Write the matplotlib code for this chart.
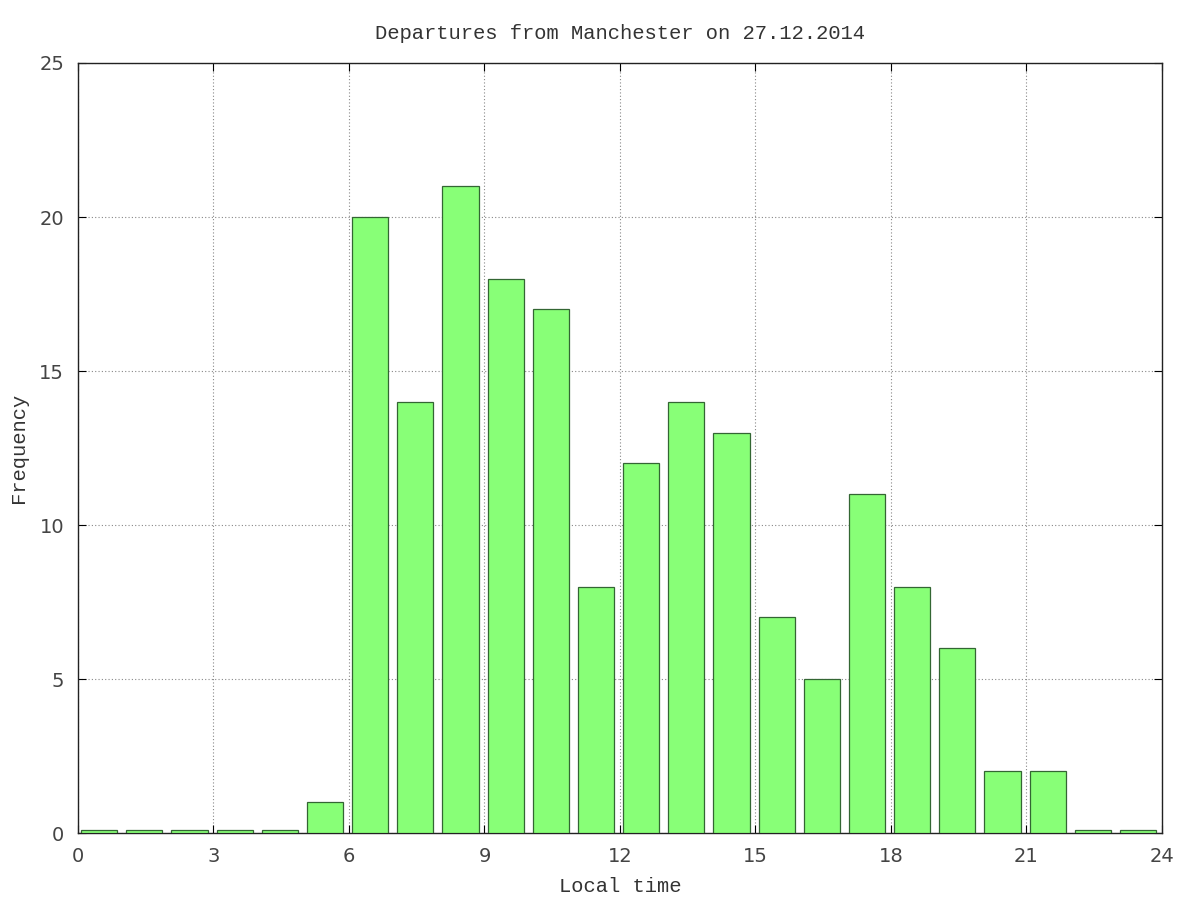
import numpy as np
import matplotlib
matplotlib.use("Agg")
import matplotlib.pyplot as plt

hours = np.arange(24)
counts = [0.1, 0.1, 0.1, 0.1, 0.1, 1, 20, 14, 21, 18, 17, 8,
          12, 14, 13, 7, 5, 11, 8, 6, 2, 2, 0.1, 0.1]
xticks = [0, 3, 6, 9, 12, 15, 18, 21, 24]
yticks = [0, 5, 10, 15, 20, 25]

fig = plt.figure(figsize=(12, 9), dpi=100)
ax = fig.add_axes([0.065, 0.0744, 0.9033, 0.8556])

ax.bar(hours + 0.47, counts, width=0.8, color="#88ff77",
       edgecolor="#336633", linewidth=0.9, zorder=3)

ax.set_xlim(0, 24)
ax.set_ylim(0, 25)
ax.set_xticks(xticks)
ax.set_yticks(yticks)
ax.grid(True, linestyle=(0, (1, 2)), color="#888888", linewidth=0.8, zorder=0)
ax.tick_params(direction="in", length=6, top=True, right=True,
               labelsize=14, labelcolor="#444444", pad=10)
for s in ax.spines.values():
    s.set_linewidth(1.0)
    s.set_color("#222222")

mono = "Liberation Mono"
ax.set_title("Departures from Manchester on 27.12.2014", fontfamily=mono,
             fontsize=14.8, pad=17, color="#333333")
ax.set_xlabel("Local time", fontfamily=mono, fontsize=14.8, labelpad=8, color="#333333")
ax.set_ylabel("Frequency", fontfamily=mono, fontsize=14.8, labelpad=8, color="#333333")

fig.savefig("out.png")
